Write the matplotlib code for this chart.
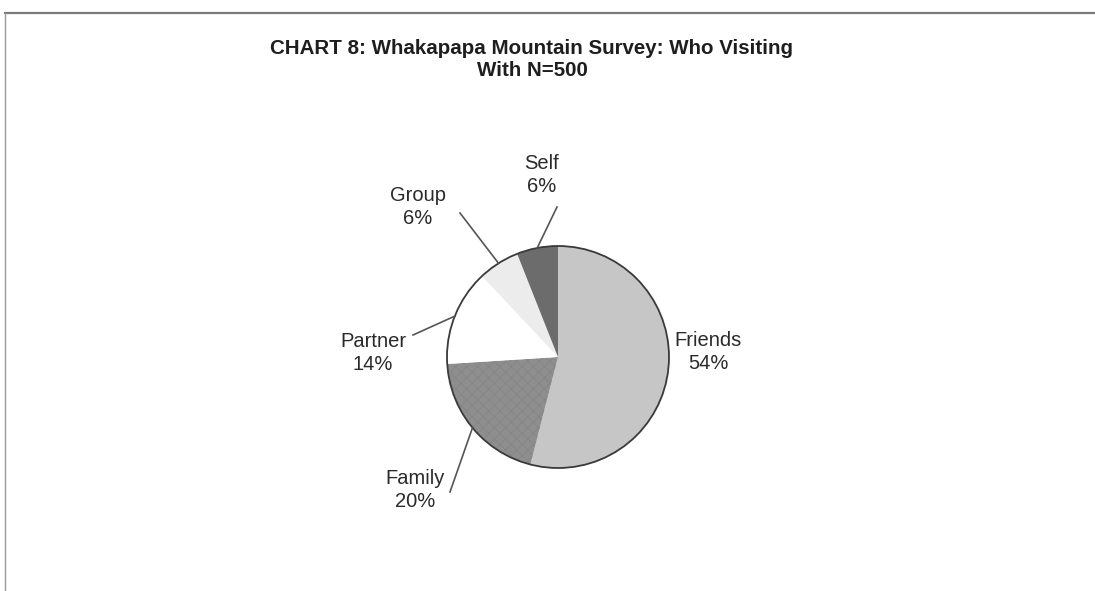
import matplotlib.pyplot as plt
from matplotlib.lines import Line2D
from matplotlib.patches import Circle
import numpy as np

plt.rcParams['font.family'] = ['Liberation Sans', 'DejaVu Sans']
plt.rcParams['hatch.color'] = '#828282'
plt.rcParams['hatch.linewidth'] = 0.4

categories = ['Friends', 'Family', 'Partner', 'Group', 'Self']
shares = [54, 20, 14, 6, 6]
colors = ['#c6c6c6', '#8e8e8e', '#ffffff', '#ececec', '#6c6c6c']

W, H = 1095, 591
cx, cy, rad = 558, 357, 111  # pie centre and radius, pixels

# label centres and leader-line ends, pixels
label_pos = {'Friends': (708, 352), 'Family': (415, 490), 'Partner': (373, 353),
             'Group': (418, 207), 'Self': (542, 175)}
leader_end = {'Family': (450, 492), 'Partner': (413, 335),
              'Group': (460, 213), 'Self': (557, 207)}


def to_data(p):
    return (p[0] - cx) / rad, (cy - p[1]) / rad


fig = plt.figure(figsize=(W / 100, H / 100), dpi=100)
ax = fig.add_axes([0, 0, 1, 1])
wedges, _ = ax.pie(shares, colors=colors, startangle=90, counterclock=False,
                   wedgeprops=dict(linewidth=0))
wedges[1].set_hatch('xxx')
ax.add_patch(Circle((0, 0), 1, fill=False, edgecolor='#3a3a3a', lw=1.3))

for w, cat, s in zip(wedges, categories, shares):
    tx, ty = to_data(label_pos[cat])
    ax.text(tx, ty, f'{cat}\n{s}%', ha='center', va='center', fontsize=14.5,
            linespacing=1.3, color='#2a2a2a')
    if cat in leader_end:
        a = np.deg2rad((w.theta1 + w.theta2) / 2)
        ex, ey = to_data(leader_end[cat])
        ax.plot([np.cos(a), ex], [np.sin(a), ey], color='#555555', lw=1.2)

ax.set_xlim(-cx / rad, (W - cx) / rad)
ax.set_ylim(-(H - cy) / rad, cy / rad)
ax.set_aspect('auto')
ax.axis('off')

fig.text(532 / W, 1 - 59 / H, 'CHART 8: Whakapapa Mountain Survey: Who Visiting\nWith N=500',
         ha='center', va='center', fontsize=14.8, fontweight='bold',
         linespacing=1.2, color='#1e1e1e')

# frame: top rule and left edge
fig.add_artist(Line2D([5 / W, 1], [1 - 13 / H] * 2, color='#7a7a7a', lw=1.6))
fig.add_artist(Line2D([5 / W] * 2, [0, 1 - 13 / H], color='#9a9a9a', lw=1.0))

fig.savefig('out.png', dpi=100, facecolor='white')
